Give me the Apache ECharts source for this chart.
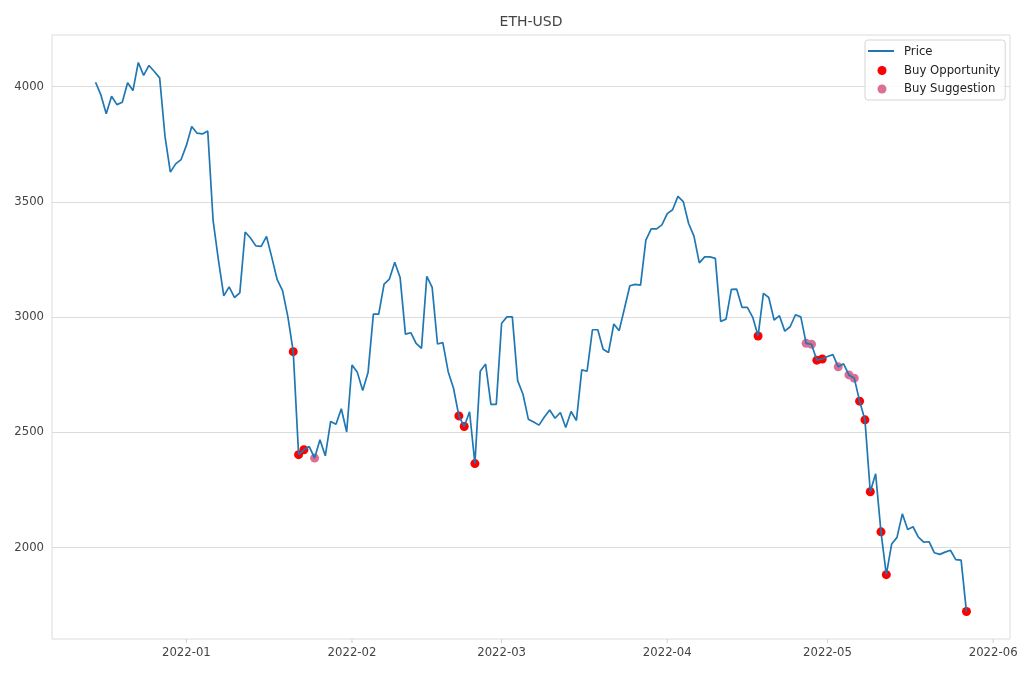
<!DOCTYPE html>
<html>
<head>
<meta charset="utf-8">
<script src="https://cdn.jsdelivr.net/npm/echarts@6/dist/echarts.min.js"></script>
<style>html,body{margin:0;padding:0;background:#fff}#c{width:1020px;height:680px}</style>
</head>
<body>
<div id="c"></div>
<script>
const startDate = '2021-12-15';
const prices = [
4019,3964,3882,3958,3922,3932,4017,3983,4105,4049,4092,4066,4038,3784,3629,3665,3683,
3745,3827,3798,3795,3807,3420,3247,3092,3131,3085,3105,3369,3343,3309,3307,3350,3258,3162,3115,3001,2850,2403,2424,2438,2388,2468,2398,2547,2535,2602,2501,
2792,2760,2681,2759,3013,3013,3143,3165,3238,3172,2926,2932,2886,2864,3177,3129,2883,2889,2763,2691,2571,2525,2589,2364,2765,2796,2621,2621,
2973,3001,3001,2724,2665,2557,2545,2531,2566,2597,2561,2586,2521,2590,2551,2771,2765,2945,2945,2860,2846,2970,2941,3038,3136,3142,3139,3334,3383,3383,3400,
3449,3466,3524,3501,3406,3351,3235,3261,3261,3255,2981,2991,3120,3121,3042,3042,2999,2918,3103,3085,2987,3006,2939,2958,3010,3001,2886,2882,2813,2818,
2829,2837,2784,2797,2749,2735,2635,2554,2242,2320,2068,1882,2015,2044,2146,2078,2090,2045,2023,2025,1977,1970,1980,1988,1947,1945,1722
];
const buyOpportunityDates = ['2022-01-21','2022-01-22','2022-01-23','2022-02-21','2022-02-22','2022-02-24','2022-04-18','2022-04-29','2022-04-30','2022-05-07','2022-05-08','2022-05-09','2022-05-11','2022-05-12','2022-05-27'];
const buySuggestionDates = ['2022-01-25','2022-04-27','2022-04-28','2022-05-03','2022-05-05','2022-05-06'];
const xTickLabels = ['2022-01','2022-02','2022-03','2022-04','2022-05','2022-06'];
const yTickValues = [2000,2500,3000,3500,4000];

const DAY = 86400000;
function pad(n){return n<10?'0'+n:''+n;}
function fmt(d){return d.getFullYear()+'-'+pad(d.getMonth()+1)+'-'+pad(d.getDate());}
const s = startDate.split('-').map(Number);
const dates = prices.map((v,i)=>fmt(new Date(s[0], s[1]-1, s[2]+i)));
const priceMap = {};
dates.forEach((d,i)=>priceMap[d]=prices[i]);
const lineData = dates.map((d,i)=>[d, prices[i]]);
const oppData = buyOpportunityDates.map(d=>[d, priceMap[d]]);
const sugData = buySuggestionDates.map(d=>[d, priceMap[d]]);

const t0 = new Date(s[0], s[1]-1, s[2]).getTime();
const t1 = t0 + (prices.length-1)*DAY;
const span = t1 - t0;
const xMin = t0 - 0.05*span, xMax = t1 + 0.05*span;
const yLo = Math.min(...prices), yHi = Math.max(...prices);
const yMin = yLo - 0.05*(yHi-yLo), yMax = yHi + 0.05*(yHi-yLo);
const tickTimes = xTickLabels.map(l=>{const p=l.split('-').map(Number);return new Date(p[0],p[1]-1,1).getTime();});

const chart = echarts.init(document.getElementById('c'), null, {renderer:'canvas'});
const FONT = 'DejaVu Sans';
const FS = 11.7;
const LEG_LEFT = 865, LEG_TOP = 40;
chart.setOption({
  animation:false,
  backgroundColor:'#fff',
  graphic:[
    {type:'text', x:531, y:22, z:10, style:{text:'ETH-USD', fill:'#444', font:'14px '+FONT, align:'center', verticalAlign:'middle'}},
    {type:'line', z:100, shape:{x1:LEG_LEFT+3, y1:51, x2:LEG_LEFT+29, y2:51}, style:{stroke:'#1f77b4', lineWidth:2}}
  ],
  legend:{
    orient:'vertical', left:LEG_LEFT, top:LEG_TOP, z:50,
    backgroundColor:'rgba(255,255,255,0.85)',
    borderColor:'#d5d5d5', borderWidth:1, borderRadius:3,
    padding:[6,5,5,3], itemGap:6.5, itemWidth:28, itemHeight:9,
    textStyle:{fontFamily:FONT, fontSize:FS, color:'#222', padding:[0,0,0,3]},
    data:[{name:'Price', icon:'none'},{name:'Buy Opportunity', icon:'circle'},{name:'Buy Suggestion', icon:'circle'}]
  },
  grid:{left:52, right:10, top:35, bottom:41, show:true, borderColor:'#dcdcdc', borderWidth:1, containLabel:false},
  xAxis:{
    type:'time', min:xMin, max:xMax,
    axisLine:{show:false},
    axisTick:{show:false},
    axisLabel:{show:false},
    splitLine:{show:false}
  },
  yAxis:{
    type:'value', min:yMin, max:yMax,
    axisLine:{show:false},
    axisTick:{show:false, customValues:yTickValues},
    axisLabel:{fontFamily:FONT, fontSize:FS, color:'#444', margin:8, customValues:yTickValues,
      formatter:function(v){return String(v);}},
    splitLine:{lineStyle:{color:'#dcdcdc', width:1}}
  },
  series:[
    {name:'Price', type:'line', data:lineData, symbol:'none', z:3,
     lineStyle:{color:'#1f77b4', width:1.7}, itemStyle:{color:'#1f77b4'}},
    {name:'Buy Opportunity', type:'scatter', data:oppData, symbolSize:9, z:2,
     itemStyle:{color:'#ff0000', opacity:1}},
    {name:'Buy Suggestion', type:'scatter', data:sugData, symbolSize:9, z:2,
     itemStyle:{color:'#db7093', opacity:1}},
    {name:'ticks', type:'custom', silent:true, z:1, legendHoverLink:false,
     data:tickTimes.map((t,i)=>[t,i]),
     renderItem:function(params, api){
       const x = api.coord([api.value(0), yMin])[0];
       const y = 639;
       return {type:'group', children:[
         {type:'line', shape:{x1:x, y1:y, x2:x, y2:y+4}, style:{stroke:'#cfcfcf', lineWidth:1}},
         {type:'text', x:x, y:y+8, style:{text:xTickLabels[api.value(1)], fill:'#444', font:FS+'px '+FONT, align:'center', verticalAlign:'top'}}
       ]};
     }}
  ]
});
</script>
</body>
</html>
